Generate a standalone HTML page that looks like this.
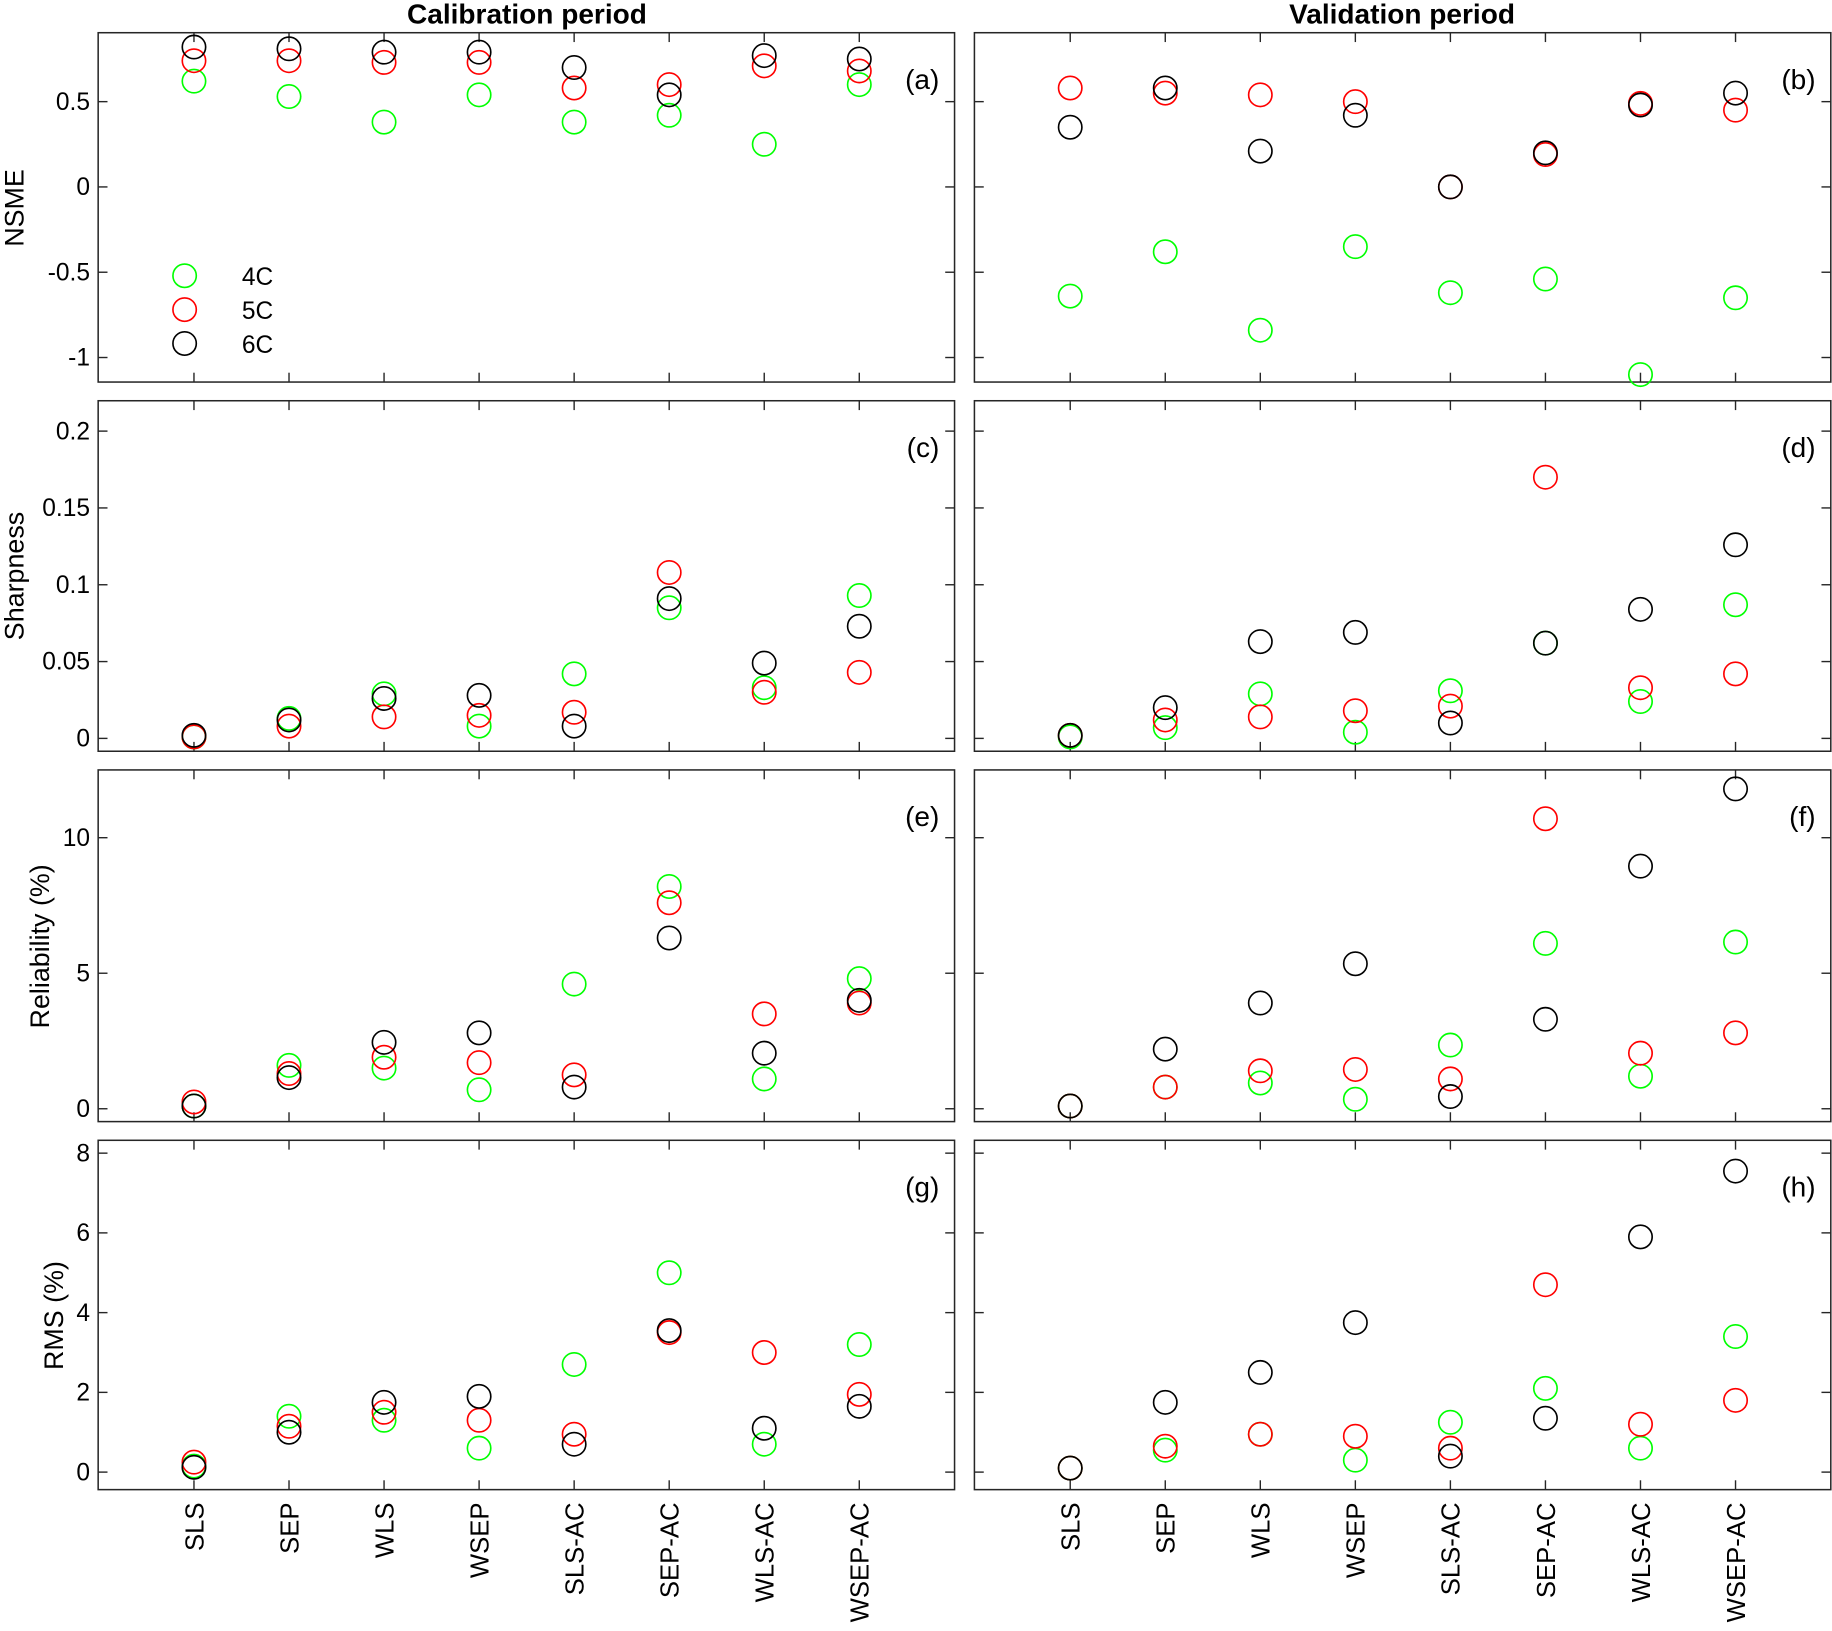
<!DOCTYPE html>
<html><head><meta charset="utf-8">
<style>html,body{margin:0;padding:0;background:#fff}svg{display:block}text{font-family:"Liberation Sans",sans-serif;fill:#000}</style>
</head><body>
<svg id="chart" width="1832" height="1631" viewBox="0 0 1568 1396" xmlns="http://www.w3.org/2000/svg"></svg>
<script>
const categories=["SLS","SEP","WLS","WSEP","SLS-AC","SEP-AC","WLS-AC","WSEP-AC"];
const seriesNames=["4C","5C","6C"];
const seriesColors=["#00ff00","#ff0000","#000000"];
// NSME
const nsmeCal4=[0.62,0.53,0.38,0.54,0.38,0.42,0.25,0.60];
const nsmeCal5=[0.74,0.74,0.73,0.73,0.58,0.60,0.71,0.68];
const nsmeCal6=[0.82,0.81,0.79,0.79,0.70,0.54,0.77,0.75];
const nsmeVal4=[-0.64,-0.38,-0.84,-0.35,-0.62,-0.54,-1.10,-0.65];
const nsmeVal5=[0.58,0.55,0.54,0.50,0.0,0.19,0.49,0.45];
const nsmeVal6=[0.35,0.58,0.21,0.42,0.0,0.20,0.48,0.55];
// Sharpness
const shCal4=[0.001,0.013,0.029,0.008,0.042,0.085,0.033,0.093];
const shCal5=[0.001,0.008,0.014,0.015,0.017,0.108,0.030,0.043];
const shCal6=[0.002,0.012,0.026,0.028,0.008,0.091,0.049,0.073];
const shVal4=[0.001,0.007,0.029,0.004,0.031,0.062,0.024,0.087];
const shVal5=[0.002,0.012,0.014,0.018,0.021,0.170,0.033,0.042];
const shVal6=[0.002,0.020,0.063,0.069,0.010,0.062,0.084,0.126];
// Reliability
const relCal4=[0.1,1.6,1.5,0.7,4.6,8.2,1.1,4.8];
const relCal5=[0.25,1.3,1.9,1.7,1.25,7.6,3.5,3.9];
const relCal6=[0.1,1.15,2.45,2.8,0.8,6.3,2.05,4.0];
const relVal4=[0.1,0.8,0.95,0.35,2.35,6.1,1.2,6.15];
const relVal5=[0.1,0.8,1.4,1.45,1.1,10.7,2.05,2.8];
const relVal6=[0.1,2.2,3.9,5.35,0.45,3.3,8.95,11.8];
// RMS
const rmsCal4=[0.15,1.4,1.3,0.6,2.7,5.0,0.7,3.2];
const rmsCal5=[0.25,1.15,1.5,1.3,0.95,3.5,3.0,1.95];
const rmsCal6=[0.12,1.0,1.75,1.9,0.7,3.55,1.1,1.65];
const rmsVal4=[0.1,0.55,0.95,0.3,1.25,2.1,0.6,3.4];
const rmsVal5=[0.1,0.65,0.95,0.9,0.6,4.7,1.2,1.8];
const rmsVal6=[0.1,1.75,2.5,3.75,0.4,1.35,5.9,7.55];
const nsmeTicks=[0.5,0,-0.5,-1], nsmeTickLabels=["0.5","0","-0.5","-1"];
const shTicks=[0,0.05,0.1,0.15,0.2], shTickLabels=["0","0.05","0.1","0.15","0.2"];
const relTicks=[0,5,10], relTickLabels=["0","5","10"];
const rmsTicks=[0,2,4,6,8], rmsTickLabels=["0","2","4","6","8"];

const NS="http://www.w3.org/2000/svg";
const svg=document.getElementById('chart');
function mk(tag,attrs,parent){const e=document.createElementNS(NS,tag);for(const k in attrs)e.setAttribute(k,attrs[k]);(parent||svg).appendChild(e);return e;}
const colsX=[[84,817],[834,1567]];
const rows=[
 {y0:28,y1:327,v0:0,p0:160,v1:-1,p1:306,ticks:nsmeTicks,labels:nsmeTickLabels,title:"NSME",tx:12,ty:178,data:[[nsmeCal4,nsmeCal5,nsmeCal6],[nsmeVal4,nsmeVal5,nsmeVal6]],tags:["(a)","(b)"],nm:"nsme"},
 {y0:343,y1:643,v0:0,p0:632,v1:0.2,p1:369,ticks:shTicks,labels:shTickLabels,title:"Sharpness",tx:12,ty:493,data:[[shCal4,shCal5,shCal6],[shVal4,shVal5,shVal6]],tags:["(c)","(d)"],nm:"sharpness"},
 {y0:659,y1:960,v0:0,p0:949,v1:10,p1:717,ticks:relTicks,labels:relTickLabels,title:"Reliability (%)",tx:34,ty:810,data:[[relCal4,relCal5,relCal6],[relVal4,relVal5,relVal6]],tags:["(e)","(f)"],nm:"reliability"},
 {y0:976,y1:1275,v0:0,p0:1260,v1:8,p1:987,ticks:rmsTicks,labels:rmsTickLabels,title:"RMS (%)",tx:46,ty:1126,data:[[rmsCal4,rmsCal5,rmsCal6],[rmsVal4,rmsVal5,rmsVal6]],tags:["(g)","(h)"],nm:"rms"}
];
function xPos(c,i){return colsX[c][0]+82+i*81.35;}
rows.forEach((r,ri)=>{
 const yS=v=>r.p0+(v-r.v0)*(r.p1-r.p0)/(r.v1-r.v0);
 for(let c=0;c<2;c++){
  const [x0,x1]=colsX[c];
  const g=mk('g',{});
  
  
  mk('rect',{x:x0,y:r.y0,width:x1-x0,height:r.y1-r.y0,fill:'none',stroke:'#262626','stroke-width':1.3},g);
  r.ticks.forEach((t,ti)=>{const y=yS(t);
   mk('line',{x1:x0,x2:x0+8,y1:y,y2:y,stroke:'#262626','stroke-width':1.2},g);
   mk('line',{x1:x1,x2:x1-8,y1:y,y2:y,stroke:'#262626','stroke-width':1.2},g);
   if(c===0){const t2=mk('text',{x:x0-7,y:y+7,'text-anchor':'end','font-size':21},g);t2.textContent=r.labels[ti];
    
    }
  });
  categories.forEach((cat,i)=>{const x=xPos(c,i);
   mk('line',{x1:x,x2:x,y1:r.y1,y2:r.y1-8,stroke:'#262626','stroke-width':1.2},g);
   mk('line',{x1:x,x2:x,y1:r.y0,y2:r.y0+8,stroke:'#262626','stroke-width':1.2},g);
  });
  const tag=mk('text',{x:x1-13,y:r.y0+48,'text-anchor':'end','font-size':24},g);tag.textContent=r.tags[c];
  
  
  r.data[c].forEach((vals,si)=>{
   vals.forEach((v,i)=>{
    const ci=mk('circle',{cx:xPos(c,i),cy:yS(v),r:10,fill:'none',stroke:seriesColors[si],'stroke-width':1.4},g);
    
    
   });
  });
 }
 const yt=mk('text',{x:0,y:0,'text-anchor':'middle','font-size':23,transform:`translate(${r.tx+8},${r.ty}) rotate(-90)`});
 yt.textContent=r.title;
 
 
});
for(let c=0;c<2;c++){categories.forEach((cat,i)=>{
 const t=mk('text',{x:0,y:0,'text-anchor':'end','font-size':22,transform:`translate(${xPos(c,i)+8},1286) rotate(-90)`});
 t.textContent=cat;
 
 
});}
const titles=[["Calibration period",451],["Validation period",1200]];
titles.forEach(([s,x])=>{const t=mk('text',{x:x,y:20,'text-anchor':'middle','font-size':24,'font-weight':'bold'});t.textContent=s;
 
 });
seriesNames.forEach((n,i)=>{
 const ci=mk('circle',{cx:158,cy:236+i*29,r:10,fill:'none',stroke:seriesColors[i],'stroke-width':1.4});
 
 
 const t=mk('text',{x:207,y:244+i*29,'font-size':21});t.textContent=n;
 
 
});
</script>
</body></html>
